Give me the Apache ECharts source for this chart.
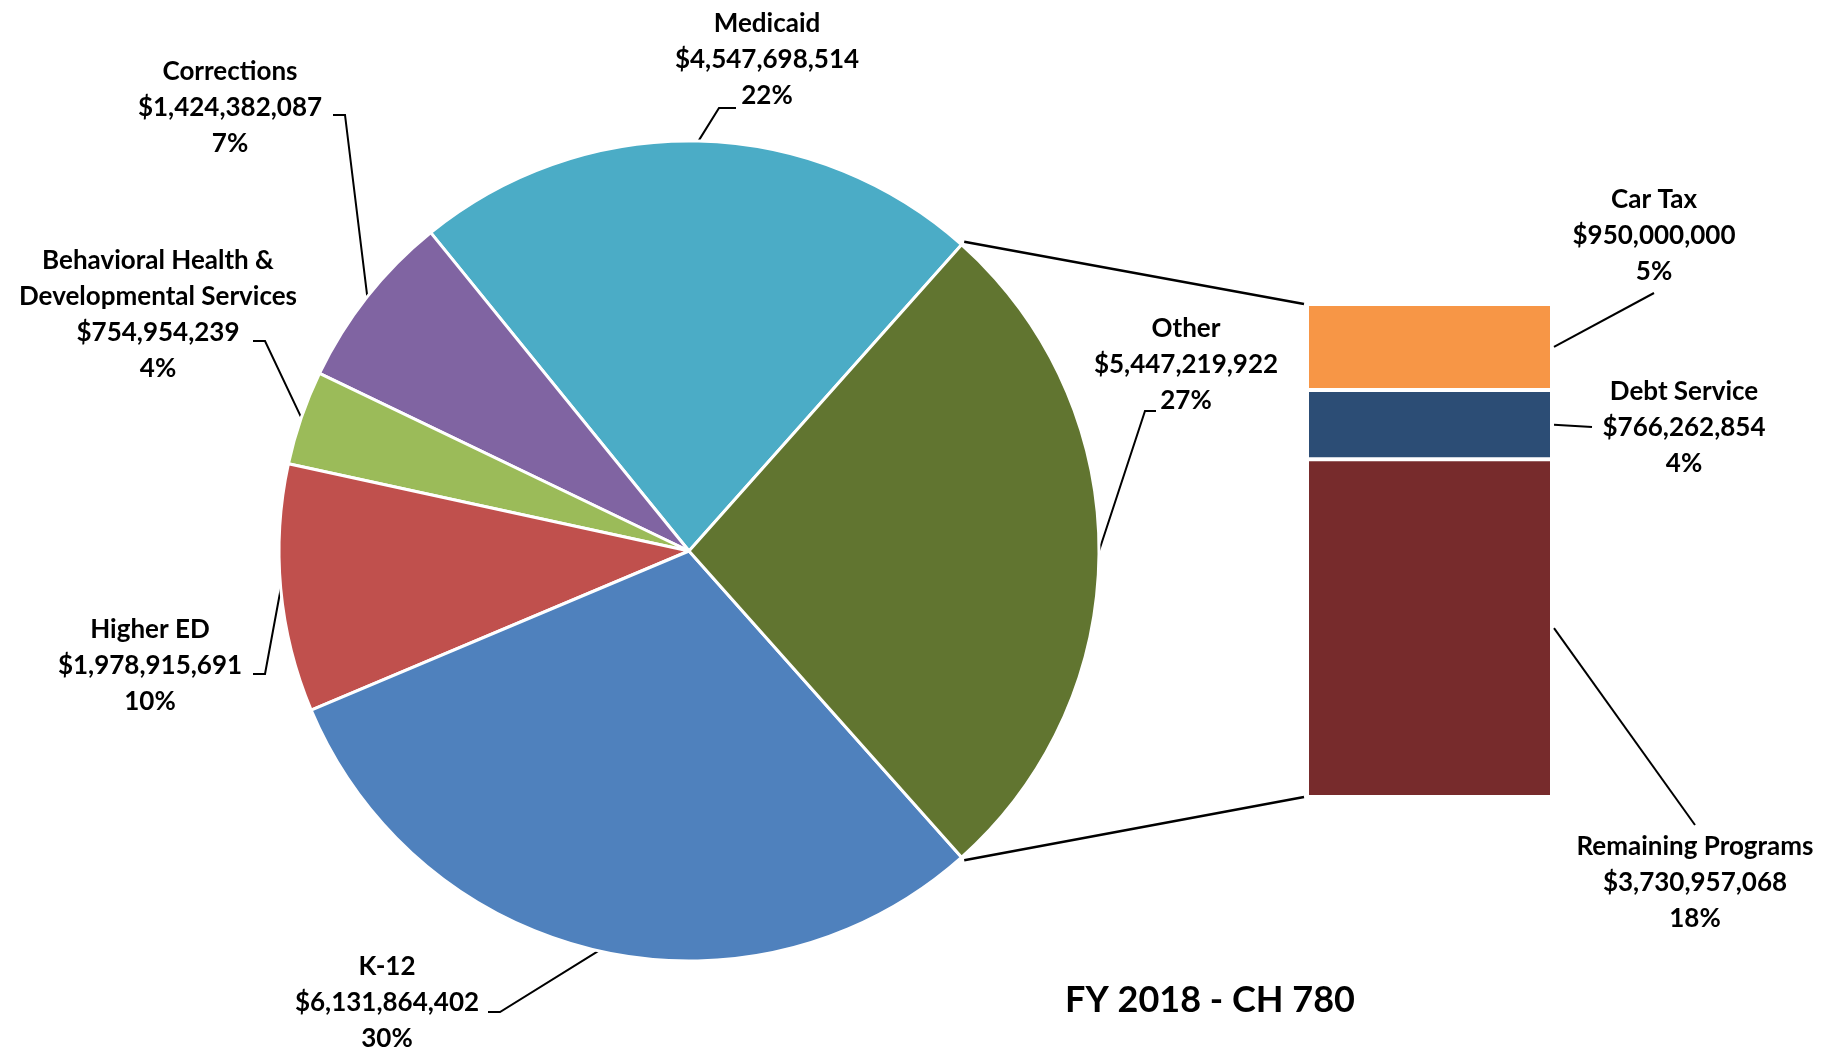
<!DOCTYPE html>
<html>
<head>
<meta charset="utf-8">
<script src="https://cdn.jsdelivr.net/npm/echarts@6/dist/echarts.min.js"></script>
<style>
  html, body { margin: 0; padding: 0; background: #fff; }
  #main { width: 1837px; height: 1053px; }
</style>
</head>
<body>
<div id="main"></div>
<script>
// pie slices (counter-clockwise from the top edge of "Other")
var pieNames = ['Medicaid', 'Corrections', 'Behavioral Health &\nDevelopmental Services', 'Higher ED', 'K-12', 'Other'];
var pieValues = [4547698514, 1424382087, 754954239, 1978915691, 6131864402, 5447219922];
var pieColors = ['#4BACC6', '#8064A2', '#9BBB59', '#C0504D', '#4F81BD', '#617530'];

// breakdown of "Other" (top to bottom in the bar)
var barNames = ['Car Tax', 'Debt Service', 'Remaining Programs'];
var barValues = [950000000, 766262854, 3730957068];
var barColors = ['#F79646', '#2C4D75', '#772B2C'];

var chartTitle = 'FY 2018 - CH 780';

var total = pieValues.reduce(function (a, b) { return a + b; }, 0);
var barTotal = barValues.reduce(function (a, b) { return a + b; }, 0);
var otherShare = pieValues[pieValues.length - 1] / total;
var startAngle = otherShare * 180;   // "Other" centred on 3 o'clock

var font = 'Lato';
var pieCenter = [689, 551];
var pieRadius = 410;
var gridLeft = 1307, gridTop = 304, gridWidth = 245, gridHeight = 493;

// label centre, elbow, end of leader line
var pieSpots = [
  { c: [767, 60], e: [719, 108], t: [736, 108] },
  { c: [230, 108], e: [345, 115], t: [333, 115] },
  { c: [158, 315], e: [265, 341], t: [253, 341] },
  { c: [150, 666], e: [265, 674], t: [253, 674] },
  { c: [387, 1003], e: [500, 1012], t: [488, 1012] },
  { c: [1186, 365], e: [1145, 411], t: [1156, 411] }
];
var barSpots = [
  { c: [1654, 236], t: [1654, 293] },
  { c: [1684, 428], t: [1592, 427] },
  { c: [1695, 883], t: [1695, 825] }
];

function money(v) {
  return '$' + v.toLocaleString('en-US');
}
function pct(v) {
  return Math.round(v / total * 100) + '%';
}

var labelStyle = {
  show: true,
  color: '#000',
  fontFamily: font,
  fontWeight: 'bold',
  fontSize: 26,
  lineHeight: 36,
  align: 'center',
  overflow: 'none'
};

var chart = echarts.init(document.getElementById('main'));

var barSeries = [];
for (var i = barNames.length - 1; i >= 0; i--) {
  (function (k) {
    barSeries.push({
      name: barNames[k],
      type: 'bar',
      stack: 'other',
      barWidth: '100%',
      barCategoryGap: 0,
      silent: true,
      data: [barValues[k]],
      itemStyle: { color: barColors[k], borderColor: '#fff', borderWidth: 2 },
      label: Object.assign({}, labelStyle, {
        position: 'right',
        formatter: function () {
          return barNames[k] + '\n' + money(barValues[k]) + '\n' + pct(barValues[k]);
        }
      }),
      labelLayout: function () {
        var s = barSpots[k];
        return { x: s.c[0], y: s.c[1], align: 'center', verticalAlign: 'middle' };
      }
    });
  })(i);
}

var option = {
  animation: false,
  backgroundColor: '#fff',
  grid: { left: gridLeft, top: gridTop, width: gridWidth, height: gridHeight },
  xAxis: { type: 'category', data: [''], show: false },
  yAxis: { type: 'value', min: 0, max: barTotal, show: false },
  series: [{
    type: 'pie',
    center: pieCenter,
    radius: pieRadius,
    clockwise: false,
    startAngle: startAngle,
    silent: true,
    data: pieNames.map(function (n, i) {
      return { name: n, value: pieValues[i], itemStyle: { color: pieColors[i] } };
    }),
    itemStyle: { borderColor: '#fff', borderWidth: 3 },
    label: Object.assign({}, labelStyle, {
      position: 'outside',
      width: 340,
      formatter: function (p) {
        return p.name + '\n' + money(p.value) + '\n' + pct(p.value);
      }
    }),
    labelLine: { show: true, length: 10, length2: 10, smooth: false, lineStyle: { color: '#000', width: 2 } },
    labelLayout: function (p) {
      var s = pieSpots[p.dataIndex];
      var first = p.labelLinePoints ? p.labelLinePoints[0] : s.e;
      return {
        x: s.c[0], y: s.c[1], align: 'center', verticalAlign: 'middle',
        labelLinePoints: [first, s.e, s.t]
      };
    }
  }].concat(barSeries)
};
chart.setOption(option);

// connector lines from the "Other" slice to the bar
var a = startAngle * Math.PI / 180;
var rr = pieRadius + 4;
var yTop = chart.convertToPixel({ yAxisIndex: 0 }, barTotal);
var yBot = chart.convertToPixel({ yAxisIndex: 0 }, 0);
var graphics = [
  { type: 'line', silent: true, shape: { x1: pieCenter[0] + rr * Math.cos(a), y1: pieCenter[1] - rr * Math.sin(a), x2: gridLeft - 3, y2: yTop },
    style: { stroke: '#000', lineWidth: 2.5 } },
  { type: 'line', silent: true, shape: { x1: pieCenter[0] + rr * Math.cos(a), y1: pieCenter[1] + rr * Math.sin(a), x2: gridLeft - 3, y2: yBot },
    style: { stroke: '#000', lineWidth: 2.5 } },
  { type: 'text', silent: true, x: 1210, y: 1000,
    style: { text: chartTitle, align: 'center', verticalAlign: 'middle', fill: '#000', font: 'bold 36px ' + font } }
];

// leader lines for the bar segments, from the middle of each segment's right edge
var above = 0;
barValues.forEach(function (v, k) {
  var segTop = chart.convertToPixel({ yAxisIndex: 0 }, barTotal - above);
  var segBot = chart.convertToPixel({ yAxisIndex: 0 }, barTotal - above - v);
  above += v;
  graphics.push({ type: 'polyline', silent: true,
    shape: { points: [[gridLeft + gridWidth + 2, (segTop + segBot) / 2], barSpots[k].t] },
    style: { stroke: '#000', lineWidth: 2, fill: null } });
});
chart.setOption({ graphic: graphics });
</script>
</body>
</html>
